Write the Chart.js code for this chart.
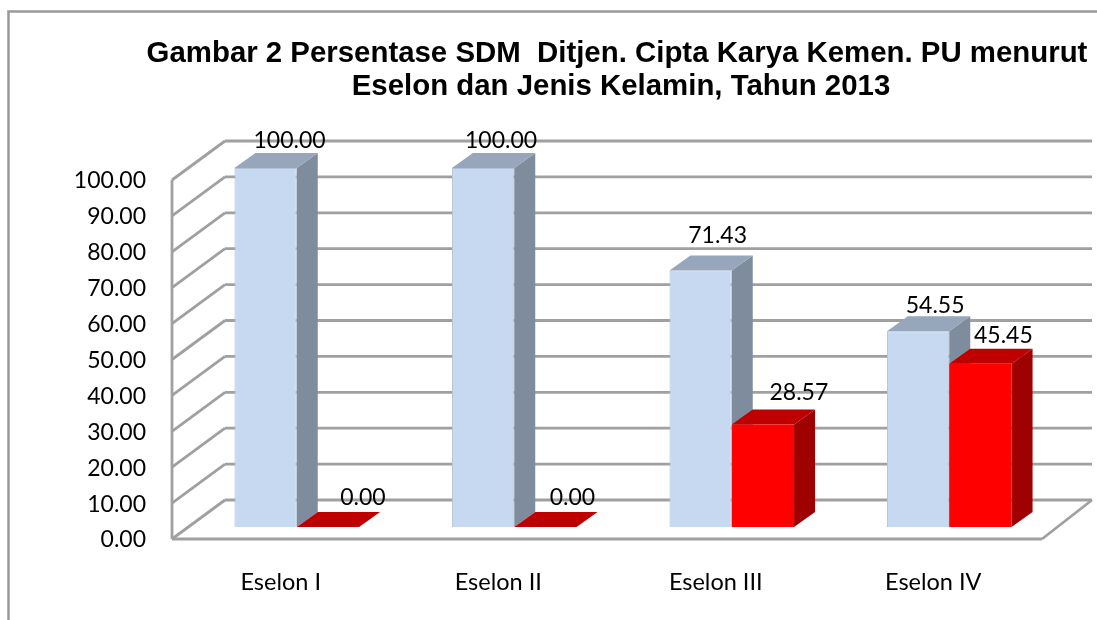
<!DOCTYPE html>
<html>
<head>
<meta charset="utf-8">
<title>Persentase SDM</title>
<script src="https://cdn.jsdelivr.net/npm/chart.js@4/dist/chart.umd.min.js"></script>
<style>
    html, body { margin: 0; padding: 0; background: #fff; overflow: hidden; }
    canvas { display: block; }
</style>
</head>
<body>
<canvas id="sdmChart" width="1097" height="620"></canvas>
<script>
const categories = ['Eselon I', 'Eselon II', 'Eselon III', 'Eselon IV'];
const lakiLaki = [100.00, 100.00, 71.43, 54.55];
const perempuan = [0.00, 0.00, 28.57, 45.45];
const titleLines = [
    'Gambar 2 Persentase SDM  Ditjen. Cipta Karya Kemen. PU menurut',
    'Eselon dan Jenis Kelamin, Tahun 2013'
];

// Excel placed the value labels by hand-ish, so each one gets its own nudge
const labelNudge = [
    [[24, -27], [18, -27], [17, -35], [17, -26]],
    [[35, -29], [27, -29], [36, -32], [23, -28]]
];

const LABEL_FONT = '23px Lato';
const GRID_COLOR = '#a0a0a0';
const DEPTH_X = 21, DEPTH_Y = 15;          // depth of a bar
const faces = [
    { top: '#97a6ba', side: '#7f8c9d' },
    { top: '#bf0000', side: '#9f0000' }
];

function line(ctx, x1, y1, x2, y2) {
    ctx.beginPath();
    ctx.moveTo(x1, y1);
    ctx.lineTo(x2, y2);
    ctx.stroke();
}

function poly(ctx, pts, color) {
    ctx.fillStyle = color;
    ctx.beginPath();
    pts.forEach(function(p, i) {
        if (i === 0) ctx.moveTo(p[0], p[1]);
        else ctx.lineTo(p[0], p[1]);
    });
    ctx.closePath();
    ctx.fill();
}

const box3d = {
    id: 'box3d',
    beforeDatasetsDraw: function(chart) {
        const ctx = chart.ctx;
        const yScale = chart.scales.y;
        const area = chart.chartArea;
        const frontL = area.left - 16, frontR = area.right - 16;
        const backL = area.left + 37, backR = area.right + 34;

        ctx.save();
        // outer chart frame
        ctx.strokeStyle = '#999999';
        ctx.lineWidth = 2.5;
        ctx.beginPath();
        ctx.moveTo(8.5, 620);
        ctx.lineTo(8.5, 11.5);
        ctx.lineTo(1097, 11.5);
        ctx.stroke();

        // walls and floor
        ctx.strokeStyle = GRID_COLOR;
        ctx.lineWidth = 2.8;
        yScale.ticks.forEach(function(t) {
            const y = yScale.getPixelForValue(t.value);
            line(ctx, frontL, y + 12, backL, y - 27);
            line(ctx, backL, y - 27, backR, y - 27);
        });
        const y0 = yScale.getPixelForValue(0);
        line(ctx, frontL, yScale.getPixelForValue(100) + 12, frontL, y0 + 12);
        line(ctx, frontL, y0 + 12, frontR, y0 + 12);
        line(ctx, frontR, y0 + 12, backR, y0 - 27);

        // side and top faces, the fronts come from the bar elements
        categories.forEach(function(c, i) {
            chart.data.datasets.forEach(function(ds, d) {
                const bar = chart.getDatasetMeta(d).data[i];
                const l = bar.x - bar.width / 2, r = bar.x + bar.width / 2;
                poly(ctx, [[r, bar.y], [r + DEPTH_X, bar.y - DEPTH_Y], [r + DEPTH_X, bar.base - DEPTH_Y], [r, bar.base]], faces[d].side);
                poly(ctx, [[l, bar.y], [l + DEPTH_X, bar.y - DEPTH_Y], [r + DEPTH_X, bar.y - DEPTH_Y], [r, bar.y]], faces[d].top);
            });
        });
        ctx.restore();
    },
    afterDatasetsDraw: function(chart) {
        const ctx = chart.ctx;
        ctx.save();
        ctx.fillStyle = '#000';
        ctx.textAlign = 'center';
        ctx.textBaseline = 'middle';

        ctx.font = 'bold 29.4px "Liberation Sans"';
        ctx.fillText(titleLines[0], 617, 54);
        ctx.fillText(titleLines[1], 621, 87);

        ctx.font = LABEL_FONT;
        chart.data.datasets.forEach(function(ds, d) {
            chart.getDatasetMeta(d).data.forEach(function(bar, i) {
                const nudge = labelNudge[d][i];
                ctx.fillText(ds.data[i].toFixed(2), bar.x + nudge[0], bar.y + nudge[1]);
            });
        });
        ctx.restore();
    }
};

new Chart(document.getElementById('sdmChart').getContext('2d'), {
    type: 'bar',
    data: {
        labels: categories,
        datasets: [
            {
                label: 'Laki-laki',
                data: lakiLaki,
                backgroundColor: '#c6d9f1',
                borderColor: '#b3c2d6',
                borderWidth: 1
            },
            {
                label: 'Perempuan',
                data: perempuan,
                backgroundColor: '#ff0000',
                borderWidth: 0
            }
        ]
    },
    options: {
        responsive: false,
        animation: false,
        layout: {
            padding: { top: 168, right: 39, bottom: 0, left: 0 }
        },
        datasets: {
            bar: { categoryPercentage: 0.573, barPercentage: 1 }
        },
        plugins: {
            legend: { display: false },
            title: { display: false },
            tooltip: { enabled: false }
        },
        scales: {
            y: {
                min: 0,
                max: 100,
                grid: { display: false },
                border: { display: false },
                afterFit: function(scale) { scale.width = 188; },
                ticks: {
                    stepSize: 10,
                    padding: 34,
                    labelOffset: 13,
                    color: '#000',
                    font: { family: 'Lato', size: 23 },
                    callback: function(value) { return value.toFixed(2); }
                }
            },
            x: {
                grid: { display: false },
                border: { display: false },
                afterFit: function(scale) { scale.height = 93; },
                ticks: {
                    padding: 33,
                    labelOffset: -16,
                    color: '#000',
                    maxRotation: 0,
                    font: { family: 'Lato', size: 23.5 }
                }
            }
        }
    },
    plugins: [box3d]
});
</script>
</body>
</html>
